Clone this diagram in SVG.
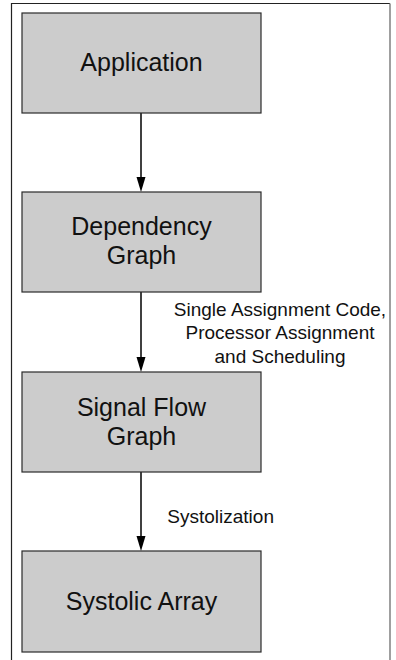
<svg xmlns="http://www.w3.org/2000/svg" width="396" height="660" viewBox="0 0 396 660">
<style>
.box{fill:#cccccc;stroke:#2a2a2a;stroke-width:1.2}
.t{font-family:"Liberation Sans",Arial,sans-serif;font-size:25px;fill:#111;text-anchor:middle}
.l{font-family:"Liberation Sans",Arial,sans-serif;font-size:19px;fill:#111}
.c{stroke:#000;stroke-width:1.5;fill:none}
</style>
<g id="frame">
<path d="M11.5,660 L11.5,3.5 L390,3.5" fill="none" stroke="#222" stroke-width="1.2"/>
<path d="M390,3.5 L390,660" fill="none" stroke="#888" stroke-width="1.6"/>
</g>
<g id="connectors">
<line class="c" x1="141" y1="113" x2="141" y2="180"/>
<path d="M136.5,177 L145.5,177 L141,192 Z" fill="#000"/>
<line class="c" x1="141" y1="292" x2="141" y2="360"/>
<path d="M136.5,357 L145.5,357 L141,372 Z" fill="#000"/>
<line class="c" x1="141" y1="472" x2="141" y2="539"/>
<path d="M136.5,536 L145.5,536 L141,551 Z" fill="#000"/>
<text class="l" x="280" y="315.7" text-anchor="middle">Single Assignment Code,</text>
<text class="l" x="280" y="339.3" text-anchor="middle">Processor Assignment</text>
<text class="l" x="280" y="362.7" text-anchor="middle">and Scheduling</text>
<text class="l" x="167.3" y="523.3">Systolization</text>
</g>
<g id="application">
<rect class="box" x="22" y="13" width="239" height="100"/>
<text class="t" x="141.5" y="71">Application</text>
</g>
<g id="dependency-graph">
<rect class="box" x="22" y="192" width="239" height="100"/>
<text class="t" x="141.5" y="235.3">Dependency</text>
<text class="t" x="141.5" y="264.3">Graph</text>
</g>
<g id="signal-flow-graph">
<rect class="box" x="22" y="372" width="239" height="100"/>
<text class="t" x="141.5" y="415.5">Signal Flow</text>
<text class="t" x="141.5" y="444.8">Graph</text>
</g>
<g id="systolic-array">
<rect class="box" x="22" y="551" width="239" height="101"/>
<text class="t" x="141.5" y="609.5">Systolic Array</text>
</g>
</svg>
